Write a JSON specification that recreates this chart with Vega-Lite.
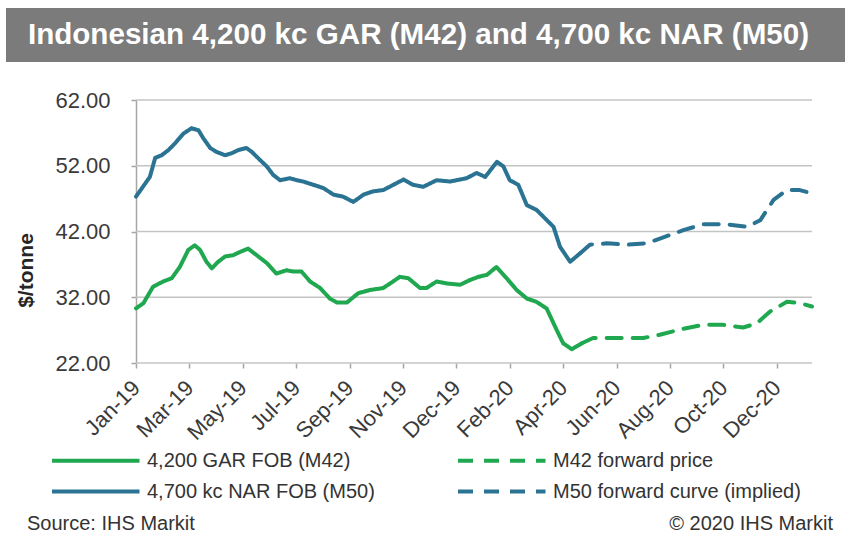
{
  "$schema": "https://vega.github.io/schema/vega-lite/v6.json",
  "background": "white",
  "padding": {"left": 6, "top": 8, "right": 0, "bottom": 0},
  "spacing": 15,
  "config": {"font": "Liberation Sans", "view": {"stroke": null}},
  "vconcat": [
    {
      "width": 839,
      "height": 54,
      "view": {"fill": "#7b7b7b", "stroke": null},
      "data": {"values": [{"title": "Indonesian 4,200 kc GAR (M42) and 4,700 kc NAR (M50)"}]},
      "mark": {"type": "text", "fontSize": 29.6, "fontWeight": "bold", "color": "#ffffff", "dx": -7, "baseline": "middle"},
      "encoding": {"text": {"field": "title"}}
    },
    {
      "width": 806,
      "height": 263,
      "title": {"text": " ", "fontSize": 8, "offset": 4},
      "layer": [
        {
          "data": {"values": [{"g": 22}, {"g": 32}, {"g": 42}, {"g": 52}, {"g": 62}]},
          "mark": {"type": "rule", "color": "#c4c4c4", "strokeWidth": 1.4},
          "encoding": {
            "y": {"field": "g", "type": "quantitative"},
            "x": {"datum": 0, "type": "quantitative"},
            "x2": {"datum": 12.66}
          }
        },
        {
          "data": {"values": [
            {"series": "4,200 GAR FOB (M42)", "t": 0, "price": 30.3},
            {"series": "4,200 GAR FOB (M42)", "t": 0.14, "price": 31.1},
            {"series": "4,200 GAR FOB (M42)", "t": 0.32, "price": 33.6},
            {"series": "4,200 GAR FOB (M42)", "t": 0.51, "price": 34.4},
            {"series": "4,200 GAR FOB (M42)", "t": 0.67, "price": 34.9},
            {"series": "4,200 GAR FOB (M42)", "t": 0.82, "price": 36.6},
            {"series": "4,200 GAR FOB (M42)", "t": 0.98, "price": 39.2},
            {"series": "4,200 GAR FOB (M42)", "t": 1.1, "price": 39.9},
            {"series": "4,200 GAR FOB (M42)", "t": 1.2, "price": 39.2},
            {"series": "4,200 GAR FOB (M42)", "t": 1.32, "price": 37.4},
            {"series": "4,200 GAR FOB (M42)", "t": 1.42, "price": 36.4},
            {"series": "4,200 GAR FOB (M42)", "t": 1.54, "price": 37.4},
            {"series": "4,200 GAR FOB (M42)", "t": 1.67, "price": 38.2},
            {"series": "4,200 GAR FOB (M42)", "t": 1.82, "price": 38.4},
            {"series": "4,200 GAR FOB (M42)", "t": 1.95, "price": 38.9},
            {"series": "4,200 GAR FOB (M42)", "t": 2.1, "price": 39.4},
            {"series": "4,200 GAR FOB (M42)", "t": 2.26, "price": 38.4},
            {"series": "4,200 GAR FOB (M42)", "t": 2.45, "price": 37.2},
            {"series": "4,200 GAR FOB (M42)", "t": 2.63, "price": 35.6},
            {"series": "4,200 GAR FOB (M42)", "t": 2.82, "price": 36.1},
            {"series": "4,200 GAR FOB (M42)", "t": 2.95, "price": 35.9},
            {"series": "4,200 GAR FOB (M42)", "t": 3.1, "price": 35.9},
            {"series": "4,200 GAR FOB (M42)", "t": 3.26, "price": 34.4},
            {"series": "4,200 GAR FOB (M42)", "t": 3.45, "price": 33.4},
            {"series": "4,200 GAR FOB (M42)", "t": 3.63, "price": 31.8},
            {"series": "4,200 GAR FOB (M42)", "t": 3.76, "price": 31.2},
            {"series": "4,200 GAR FOB (M42)", "t": 3.95, "price": 31.2},
            {"series": "4,200 GAR FOB (M42)", "t": 4.16, "price": 32.6},
            {"series": "4,200 GAR FOB (M42)", "t": 4.38, "price": 33.1},
            {"series": "4,200 GAR FOB (M42)", "t": 4.63, "price": 33.4},
            {"series": "4,200 GAR FOB (M42)", "t": 4.76, "price": 34.1},
            {"series": "4,200 GAR FOB (M42)", "t": 4.94, "price": 35.1},
            {"series": "4,200 GAR FOB (M42)", "t": 5.1, "price": 34.9},
            {"series": "4,200 GAR FOB (M42)", "t": 5.32, "price": 33.4},
            {"series": "4,200 GAR FOB (M42)", "t": 5.44, "price": 33.4},
            {"series": "4,200 GAR FOB (M42)", "t": 5.63, "price": 34.4},
            {"series": "4,200 GAR FOB (M42)", "t": 5.82, "price": 34.1},
            {"series": "4,200 GAR FOB (M42)", "t": 6.07, "price": 33.9},
            {"series": "4,200 GAR FOB (M42)", "t": 6.25, "price": 34.6},
            {"series": "4,200 GAR FOB (M42)", "t": 6.41, "price": 35.1},
            {"series": "4,200 GAR FOB (M42)", "t": 6.57, "price": 35.4},
            {"series": "4,200 GAR FOB (M42)", "t": 6.75, "price": 36.6},
            {"series": "4,200 GAR FOB (M42)", "t": 6.94, "price": 34.9},
            {"series": "4,200 GAR FOB (M42)", "t": 7.13, "price": 33.1},
            {"series": "4,200 GAR FOB (M42)", "t": 7.32, "price": 31.8},
            {"series": "4,200 GAR FOB (M42)", "t": 7.5, "price": 31.3},
            {"series": "4,200 GAR FOB (M42)", "t": 7.69, "price": 30.3},
            {"series": "4,200 GAR FOB (M42)", "t": 7.88, "price": 27.0},
            {"series": "4,200 GAR FOB (M42)", "t": 8.0, "price": 25.0},
            {"series": "4,200 GAR FOB (M42)", "t": 8.16, "price": 24.1},
            {"series": "4,200 GAR FOB (M42)", "t": 8.35, "price": 25.0},
            {"series": "M42 forward price", "t": 8.35, "price": 25.0},
            {"series": "M42 forward price", "t": 8.56, "price": 25.8},
            {"series": "M42 forward price", "t": 9.06, "price": 25.8},
            {"series": "M42 forward price", "t": 9.5, "price": 25.8},
            {"series": "M42 forward price", "t": 9.81, "price": 26.3},
            {"series": "M42 forward price", "t": 10.19, "price": 27.1},
            {"series": "M42 forward price", "t": 10.62, "price": 27.8},
            {"series": "M42 forward price", "t": 11.0, "price": 27.8},
            {"series": "M42 forward price", "t": 11.37, "price": 27.4},
            {"series": "M42 forward price", "t": 11.62, "price": 28.0},
            {"series": "M42 forward price", "t": 11.87, "price": 29.8},
            {"series": "M42 forward price", "t": 12.19, "price": 31.3},
            {"series": "M42 forward price", "t": 12.43, "price": 31.1},
            {"series": "M42 forward price", "t": 12.66, "price": 30.6},
            {"series": "4,700 kc NAR FOB (M50)", "t": 0, "price": 47.3},
            {"series": "4,700 kc NAR FOB (M50)", "t": 0.13, "price": 48.8},
            {"series": "4,700 kc NAR FOB (M50)", "t": 0.26, "price": 50.3},
            {"series": "4,700 kc NAR FOB (M50)", "t": 0.36, "price": 53.2},
            {"series": "4,700 kc NAR FOB (M50)", "t": 0.48, "price": 53.6},
            {"series": "4,700 kc NAR FOB (M50)", "t": 0.61, "price": 54.4},
            {"series": "4,700 kc NAR FOB (M50)", "t": 0.73, "price": 55.4},
            {"series": "4,700 kc NAR FOB (M50)", "t": 0.89, "price": 56.9},
            {"series": "4,700 kc NAR FOB (M50)", "t": 1.04, "price": 57.7},
            {"series": "4,700 kc NAR FOB (M50)", "t": 1.17, "price": 57.4},
            {"series": "4,700 kc NAR FOB (M50)", "t": 1.26, "price": 56.2},
            {"series": "4,700 kc NAR FOB (M50)", "t": 1.39, "price": 54.7},
            {"series": "4,700 kc NAR FOB (M50)", "t": 1.51, "price": 54.1},
            {"series": "4,700 kc NAR FOB (M50)", "t": 1.67, "price": 53.6},
            {"series": "4,700 kc NAR FOB (M50)", "t": 1.79, "price": 53.9},
            {"series": "4,700 kc NAR FOB (M50)", "t": 1.92, "price": 54.4},
            {"series": "4,700 kc NAR FOB (M50)", "t": 2.07, "price": 54.7},
            {"series": "4,700 kc NAR FOB (M50)", "t": 2.17, "price": 54.1},
            {"series": "4,700 kc NAR FOB (M50)", "t": 2.32, "price": 52.9},
            {"series": "4,700 kc NAR FOB (M50)", "t": 2.45, "price": 51.9},
            {"series": "4,700 kc NAR FOB (M50)", "t": 2.57, "price": 50.6},
            {"series": "4,700 kc NAR FOB (M50)", "t": 2.7, "price": 49.8},
            {"series": "4,700 kc NAR FOB (M50)", "t": 2.88, "price": 50.1},
            {"series": "4,700 kc NAR FOB (M50)", "t": 3.01, "price": 49.8},
            {"series": "4,700 kc NAR FOB (M50)", "t": 3.13, "price": 49.6},
            {"series": "4,700 kc NAR FOB (M50)", "t": 3.32, "price": 49.1},
            {"series": "4,700 kc NAR FOB (M50)", "t": 3.51, "price": 48.6},
            {"series": "4,700 kc NAR FOB (M50)", "t": 3.7, "price": 47.6},
            {"series": "4,700 kc NAR FOB (M50)", "t": 3.88, "price": 47.3},
            {"series": "4,700 kc NAR FOB (M50)", "t": 4.07, "price": 46.5},
            {"series": "4,700 kc NAR FOB (M50)", "t": 4.26, "price": 47.6},
            {"series": "4,700 kc NAR FOB (M50)", "t": 4.44, "price": 48.1},
            {"series": "4,700 kc NAR FOB (M50)", "t": 4.63, "price": 48.3},
            {"series": "4,700 kc NAR FOB (M50)", "t": 4.82, "price": 49.1},
            {"series": "4,700 kc NAR FOB (M50)", "t": 5.01, "price": 49.9},
            {"series": "4,700 kc NAR FOB (M50)", "t": 5.19, "price": 49.1},
            {"series": "4,700 kc NAR FOB (M50)", "t": 5.38, "price": 48.8},
            {"series": "4,700 kc NAR FOB (M50)", "t": 5.63, "price": 49.8},
            {"series": "4,700 kc NAR FOB (M50)", "t": 5.88, "price": 49.6},
            {"series": "4,700 kc NAR FOB (M50)", "t": 6.19, "price": 50.1},
            {"series": "4,700 kc NAR FOB (M50)", "t": 6.38, "price": 50.9},
            {"series": "4,700 kc NAR FOB (M50)", "t": 6.54, "price": 50.3},
            {"series": "4,700 kc NAR FOB (M50)", "t": 6.76, "price": 52.6},
            {"series": "4,700 kc NAR FOB (M50)", "t": 6.88, "price": 51.9},
            {"series": "4,700 kc NAR FOB (M50)", "t": 7.0, "price": 49.8},
            {"series": "4,700 kc NAR FOB (M50)", "t": 7.16, "price": 49.1},
            {"series": "4,700 kc NAR FOB (M50)", "t": 7.32, "price": 46.0},
            {"series": "4,700 kc NAR FOB (M50)", "t": 7.5, "price": 45.3},
            {"series": "4,700 kc NAR FOB (M50)", "t": 7.66, "price": 44.0},
            {"series": "4,700 kc NAR FOB (M50)", "t": 7.82, "price": 42.7},
            {"series": "4,700 kc NAR FOB (M50)", "t": 7.94, "price": 39.7},
            {"series": "4,700 kc NAR FOB (M50)", "t": 8.13, "price": 37.4},
            {"series": "4,700 kc NAR FOB (M50)", "t": 8.32, "price": 38.7},
            {"series": "M50 forward curve (implied)", "t": 8.32, "price": 38.7},
            {"series": "M50 forward curve (implied)", "t": 8.5, "price": 40.0},
            {"series": "M50 forward curve (implied)", "t": 8.82, "price": 40.2},
            {"series": "M50 forward curve (implied)", "t": 9.19, "price": 40.0},
            {"series": "M50 forward curve (implied)", "t": 9.56, "price": 40.2},
            {"series": "M50 forward curve (implied)", "t": 9.94, "price": 41.3},
            {"series": "M50 forward curve (implied)", "t": 10.25, "price": 42.2},
            {"series": "M50 forward curve (implied)", "t": 10.62, "price": 43.1},
            {"series": "M50 forward curve (implied)", "t": 11.06, "price": 43.1},
            {"series": "M50 forward curve (implied)", "t": 11.44, "price": 42.7},
            {"series": "M50 forward curve (implied)", "t": 11.69, "price": 43.7},
            {"series": "M50 forward curve (implied)", "t": 11.94, "price": 46.8},
            {"series": "M50 forward curve (implied)", "t": 12.19, "price": 48.3},
            {"series": "M50 forward curve (implied)", "t": 12.43, "price": 48.3},
            {"series": "M50 forward curve (implied)", "t": 12.66, "price": 47.8}
          ]},
          "mark": {"type": "line", "strokeWidth": 4, "strokeCap": "round", "strokeJoin": "round"},
          "encoding": {
            "x": {
              "field": "t", "type": "quantitative",
              "scale": {"domain": [-2.434, 12.66], "nice": false, "zero": false},
              "axis": {
                "title": " ", "titleFontSize": 10, "titlePadding": 45,
                "grid": false, "domain": false,
                "values": [0, 1, 2, 3, 4, 5, 6, 7, 8, 9, 10, 11, 12],
                "labelExpr": "['Jan-19','Mar-19','May-19','Jul-19','Sep-19','Nov-19','Dec-19','Feb-20','Apr-20','Jun-20','Aug-20','Oct-20','Dec-20'][datum.value]",
                "labelAngle": -45, "labelAlign": "right", "labelBaseline": "middle",
                "labelFontSize": 22, "labelColor": "#3a3a3a", "labelPadding": 16,
                "labelOverlap": false, "labelFlush": false,
                "tickSize": 5, "tickColor": "#a6a6a6", "tickWidth": 1.5
              }
            },
            "y": {
              "field": "price", "type": "quantitative",
              "scale": {"domain": [22, 62], "nice": false, "zero": false},
              "axis": {
                "offset": -130, "grid": false,
                "title": "$/tonne", "titleFontSize": 21, "titleFontWeight": "bold", "titleColor": "#262626",
                "titlePadding": 18, "titleY": 170,
                "values": [22, 32, 42, 52, 62], "format": ".2f",
                "labelFontSize": 22, "labelColor": "#3a3a3a", "labelPadding": 21,
                "tickSize": 5, "tickColor": "#a6a6a6", "tickWidth": 1.5,
                "domainColor": "#a6a6a6", "domainWidth": 1.5
              }
            },
            "color": {
              "field": "series", "type": "nominal",
              "scale": {
                "domain": ["4,200 GAR FOB (M42)", "M42 forward price", "4,700 kc NAR FOB (M50)", "M50 forward curve (implied)"],
                "range": ["#1fa84f", "#1fa84f", "#2b7392", "#2b7392"]
              },
              "legend": {
                "title": null, "orient": "none", "legendX": 44, "legendY": 438,
                "columns": 2, "direction": "horizontal",
                "symbolType": "M-1,0H6", "symbolSize": 625, "symbolStrokeWidth": 4,
                "labelFontSize": 20, "labelColor": "#333333", "labelOffset": 68, "labelLimit": 400,
                "columnPadding": 75, "rowPadding": 6, "padding": 0
              }
            },
            "strokeDash": {
              "field": "series", "type": "nominal",
              "scale": {
                "domain": ["4,200 GAR FOB (M42)", "M42 forward price", "4,700 kc NAR FOB (M50)", "M50 forward curve (implied)"],
                "range": [[1, 0], [15, 11], [1, 0], [15, 11]]
              },
              "legend": {
                "title": null, "orient": "none", "legendX": 44, "legendY": 438,
                "columns": 2, "direction": "horizontal",
                "symbolType": "M-1,0H6", "symbolSize": 625, "symbolStrokeWidth": 4,
                "labelFontSize": 20, "labelColor": "#333333", "labelOffset": 68, "labelLimit": 400,
                "columnPadding": 75, "rowPadding": 6, "padding": 0
              }
            }
          }
        }
      ]
    },
    {
      "width": 839,
      "height": 20,
      "data": {"values": [{"left": "Source: IHS Markit", "right": "© 2020 IHS Markit"}]},
      "layer": [
        {
          "mark": {"type": "text", "align": "left", "baseline": "middle", "fontSize": 20, "color": "#333333", "dx": 21},
          "encoding": {
            "x": {"datum": 0, "type": "quantitative", "scale": {"domain": [0, 1]}, "axis": null},
            "text": {"field": "left"}
          }
        },
        {
          "mark": {"type": "text", "align": "right", "baseline": "middle", "fontSize": 20, "color": "#333333", "dx": -12},
          "encoding": {
            "x": {"datum": 1, "type": "quantitative", "scale": {"domain": [0, 1]}, "axis": null},
            "text": {"field": "right"}
          }
        }
      ]
    }
  ]
}
